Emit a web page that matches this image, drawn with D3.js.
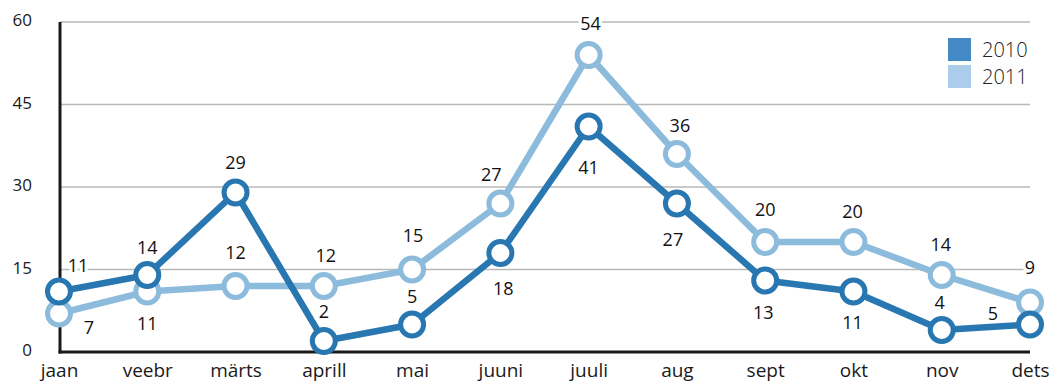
<!DOCTYPE html>
<html>
<head>
<meta charset="utf-8">
<script src="https://cdn.jsdelivr.net/npm/d3@7/dist/d3.min.js"></script>
<style>
  html, body { margin: 0; padding: 0; background: #fff; }
  svg { display: block; font-family: "Open Sans", "Noto Sans", sans-serif; }
</style>
</head>
<body>
<svg id="chart" width="1051" height="382"></svg>
<script>
// Monthly values for two years
const months = ["jaan", "veebr", "märts", "aprill", "mai", "juuni", "juuli", "aug", "sept", "okt", "nov", "dets"];
const values2010 = [11, 14, 29, 2, 5, 18, 41, 27, 13, 11, 4, 5];
const values2011 = [7, 11, 12, 12, 15, 27, 54, 36, 20, 20, 14, 9];
const yTicks = [0, 15, 30, 45, 60];
const seriesNames = ["2010", "2011"];

// Where each value label sits relative to its point (dx, dy)
const labelOffsets2010 = [[19, -26], [0, -27], [0, -30], [0, -29], [0, -28], [3, 36],
                          [0, 41], [-4, 36], [-2, 32], [-1, 31], [-2, -27], [-37, -11]];
const labelOffsets2011 = [[30, 14], [0, 32], [0, -33], [2, -30], [1, -34], [-9, -29],
                          [2, -31], [3, -28], [0, -32], [-1, -30], [-1, -30], [0, -35]];

const svg = d3.select("#chart");
const plotLeft = 60, plotRight = 1030, plotTop = 22, plotBottom = 352;

const x = d3.scalePoint().domain(months).range([59, 1030]);
const y = d3.scaleLinear().domain([0, 60]).range([plotBottom, plotTop]);

// Horizontal grid
svg.append("g")
  .selectAll("line")
  .data(yTicks.filter(t => t > 0))
  .join("line")
  .attr("x1", plotLeft).attr("x2", plotRight)
  .attr("y1", d => y(d)).attr("y2", d => y(d))
  .attr("stroke", "#b9b9b9").attr("stroke-width", 1.5);

// Y tick labels
svg.append("g")
  .selectAll("text")
  .data(yTicks)
  .join("text")
  .attr("x", 32)
  .attr("y", d => y(d) - 1.5)
  .attr("dy", "0.35em")
  .attr("text-anchor", "end")
  .attr("font-size", 17)
  .attr("fill", "#1a1a1a")
  .text(d => d);

// X axis with month names
const xAxis = svg.append("g").attr("transform", `translate(0,${plotBottom})`)
  .call(d3.axisBottom(x).tickSize(0));
xAxis.select(".domain").remove();
xAxis.append("line").attr("x1", plotLeft - 1.5).attr("x2", plotRight).attr("stroke", "#1a1a1a").attr("stroke-width", 3);
xAxis.selectAll(".tick text")
  .attr("y", 25)
  .attr("dy", 0)
  .attr("font-size", 19)
  .attr("font-family", "\"Open Sans\", \"Noto Sans\", sans-serif")
  .attr("fill", "#1a1a1a");

svg.append("line")
  .attr("x1", plotLeft).attr("x2", plotLeft)
  .attr("y1", plotTop).attr("y2", plotBottom + 1.5)
  .attr("stroke", "#1a1a1a").attr("stroke-width", 3);

const series = [
  { name: "2011", values: values2011, offsets: labelOffsets2011, line: "#8dbbdc" },
  { name: "2010", values: values2010, offsets: labelOffsets2010, line: "#2877b1" }
];

const lineGen = d3.line().x((d, i) => x(months[i])).y(d => y(d));

series.forEach(s => {
  const g = svg.append("g");
  g.append("path")
    .datum(s.values)
    .attr("d", lineGen)
    .attr("fill", "none")
    .attr("stroke", s.line)
    .attr("stroke-width", 6.5)
    .attr("stroke-linejoin", "round");
  g.selectAll("circle")
    .data(s.values)
    .join("circle")
    .attr("cx", (d, i) => x(months[i]))
    .attr("cy", d => y(d))
    .attr("r", 11.5)
    .attr("fill", "#fff")
    .attr("stroke", s.line)
    .attr("stroke-width", 5);
});

// Value labels with a white halo so they cut through grid lines
series.forEach(s => {
  svg.append("g")
    .selectAll("text")
    .data(s.values)
    .join("text")
    .attr("x", (d, i) => x(months[i]) + s.offsets[i][0])
    .attr("y", (d, i) => y(d) + s.offsets[i][1])
    .attr("dy", "0.35em")
    .attr("text-anchor", "middle")
    .attr("font-size", 18)
    .attr("fill", "#111")
    .attr("stroke", "#fff")
    .attr("stroke-width", 6)
    .attr("paint-order", "stroke")
    .text(d => d);
});

// Legend
const legendColors = ["#4389c6", "#abcdeb"];
const legend = svg.append("g").attr("transform", "translate(948,38)");
legend.selectAll("rect")
  .data(seriesNames)
  .join("rect")
  .attr("x", 0).attr("y", (d, i) => i * 27)
  .attr("width", 23).attr("height", 23)
  .attr("fill", (d, i) => legendColors[i]);
legend.selectAll("text")
  .data(seriesNames)
  .join("text")
  .attr("x", 34).attr("y", (d, i) => i * 27 + 11.5)
  .attr("dy", "0.36em")
  .attr("font-size", 20)
  .attr("font-weight", 300)
  .attr("fill", "#222")
  .text(d => d);
</script>
</body>
</html>
